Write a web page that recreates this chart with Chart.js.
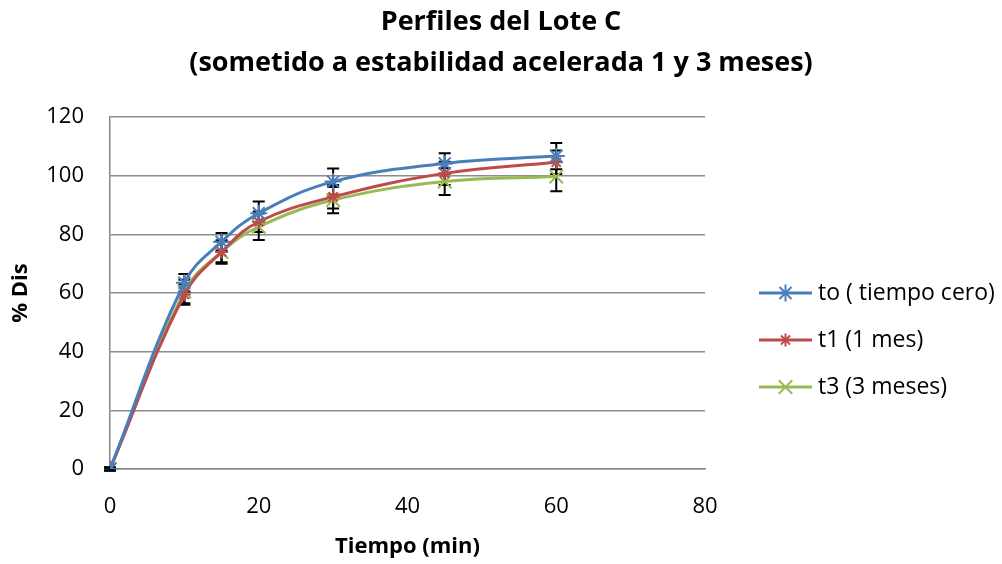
<!DOCTYPE html>
<html>
<head>
<meta charset="utf-8">
<script src="https://cdn.jsdelivr.net/npm/chart.js@4.4.1/dist/chart.umd.min.js"></script>
<style>
  body { margin: 0; background: #fff; }
  #wrap { width: 1002px; height: 564px; }
</style>
</head>
<body>
<div id="wrap"><canvas id="myChart"></canvas></div>
<script>
// datos
const tiempo = [0, 10, 15, 20, 30, 45, 60];
const to = [0, 63.5, 77.5, 87.2, 98, 104.2, 106.7];
const t1 = [0, 59.5, 74, 84.3, 92.8, 100.8, 104.6];
const t3 = [0, 60.5, 74, 82.6, 91.7, 98, 99.7];
// desviaciones (barras de error)
const errTo = [0.5, 3, 3, 4, 4.5, 3.5, 4.5];
const errT1 = [0.5, 3.5, 3.5, 3.5, 4, 4, 4];
const errT3 = [0.5, 4, 4, 4.5, 4.5, 4.6, 5];
const xTicks = [0, 20, 40, 60, 80];
const yTicks = [0, 20, 40, 60, 80, 100, 120];
const nombres = ["to ( tiempo cero)", "t1 (1 mes)", "t3 (3 meses)"];

const FONT = "'Open Sans'";
const azul = "#4A7EBB";
const rojo = "#BE4B48";
const verde = "#98B954";

function serie(label, ys, errs, color, style, radius) {
  return {
    label: label,
    data: tiempo.map((t, i) => ({ x: t, y: ys[i] })),
    errores: errs,
    borderColor: color,
    backgroundColor: color,
    borderWidth: 3,
    tension: 0.4,
    pointStyle: style,
    pointRadius: radius,
    pointBorderWidth: 2,
    pointBorderColor: color,
  };
}

// barras de error verticales en negro
const errorBars = {
  id: "errorBars",
  beforeDatasetsDraw(chart) {
    const ctx = chart.ctx;
    const y = chart.scales.y;
    const x = chart.scales.x;
    ctx.save();
    ctx.strokeStyle = "#000";
    ctx.lineWidth = 2;
    chart.data.datasets.forEach((ds) => {
      ds.data.forEach((p, i) => {
        const e = ds.errores[i];
        const px = x.getPixelForValue(p.x);
        const top = y.getPixelForValue(p.y + e);
        const bot = y.getPixelForValue(p.y - e);
        ctx.beginPath();
        ctx.moveTo(px, top);
        ctx.lineTo(px, bot);
        ctx.moveTo(px - 6, top);
        ctx.lineTo(px + 6, top);
        ctx.moveTo(px - 6, bot);
        ctx.lineTo(px + 6, bot);
        ctx.stroke();
      });
    });
    ctx.restore();
  },
};

// leyenda dibujada a la derecha (linea + marcador + texto)
const leyenda = {
  id: "leyenda",
  afterDraw(chart) {
    const ctx = chart.ctx;
    const area = chart.chartArea;
    const x0 = area.right + 54;
    const yMid = (area.top + area.bottom) / 2 + 47;
    ctx.save();
    chart.data.datasets.forEach((ds, i) => {
      const yy = yMid + (i - 1) * 47;
      ctx.strokeStyle = ds.borderColor;
      ctx.fillStyle = ds.borderColor;
      ctx.lineWidth = 3;
      ctx.beginPath();
      ctx.moveTo(x0, yy);
      ctx.lineTo(x0 + 53, yy);
      ctx.stroke();
      ctx.lineWidth = 2;
      Chart.helpers.drawPoint(ctx, { pointStyle: ds.pointStyle, radius: ds.pointRadius, rotation: 0, borderWidth: 2 }, x0 + 26.5, yy);
      ctx.fillStyle = "#000";
      ctx.font = "23px " + FONT;
      ctx.textBaseline = "middle";
      ctx.fillText(ds.label, x0 + 59, yy);
    });
    ctx.restore();
  },
};

new Chart(document.getElementById("myChart"), {
  type: "line",
  data: {
    datasets: [
      serie(nombres[0], to, errTo, azul, "star", 8.5),
      serie(nombres[1], t1, errT1, rojo, "star", 6.5),
      serie(nombres[2], t3, errT3, verde, "crossRot", 9.5),
    ],
  },
  options: {
    responsive: true,
    maintainAspectRatio: false,
    animation: false,
    layout: { padding: 0 },
    plugins: {
      legend: { display: false },
      tooltip: { enabled: false },
      title: {
        display: true,
        text: ["Perfiles del Lote C", "(sometido a estabilidad acelerada 1 y 3 meses)"],
        color: "#000",
        font: { family: FONT, size: 27, weight: "bold", lineHeight: 1.52 },
        padding: { top: 2, bottom: 33 },
      },
    },
    scales: {
      x: {
        type: "linear",
        min: 0,
        max: 80,
        afterBuildTicks: (s) => { s.ticks = xTicks.map((v) => ({ value: v })); },
        afterFit: (s) => { s.height = 95; },
        grid: { display: false },
        border: { color: "#888", width: 1.5 },
        ticks: { color: "#000", padding: 17, font: { family: FONT, size: 22 } },
        title: {
          display: true,
          text: "Tiempo (min)",
          color: "#000",
          font: { family: FONT, size: 22, weight: "bold" },
          padding: { top: 4, bottom: 4 },
        },
      },
      y: {
        min: 0,
        max: 120,
        afterBuildTicks: (s) => { s.ticks = yTicks.map((v) => ({ value: v })); },
        afterFit: (s) => { s.width = 110; },
        grid: { color: "#8c8c8c", lineWidth: 1.5, drawTicks: false },
        border: { color: "#888", width: 1.5 },
        ticks: { color: "#000", padding: 26, font: { family: FONT, size: 22 } },
        title: {
          display: true,
          text: "% Dis",
          color: "#000",
          font: { family: FONT, size: 22, weight: "bold" },
          padding: { top: 8, bottom: 8 },
        },
      },
      // eje vacio que reserva el hueco de la leyenda
      hueco: {
        type: "linear",
        position: "right",
        display: true,
        afterFit: (s) => { s.width = 297; },
        grid: { display: false },
        border: { display: false },
        ticks: { display: false },
      },
    },
  },
  plugins: [errorBars, leyenda],
});
</script>
</body>
</html>
